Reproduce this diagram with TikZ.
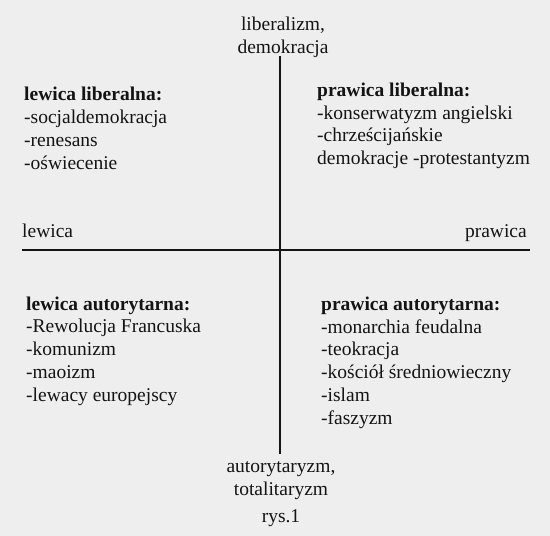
\documentclass[tikz,border=0pt]{standalone}
\usepackage{fontspec}
\setmainfont{Liberation Serif}
\definecolor{paper}{RGB}{238,238,238}
\definecolor{ink}{RGB}{20,20,20}
\begin{document}
\begin{tikzpicture}[x=1pt,y=-1pt,
    every node/.style={font=\fontsize{19.5}{22.7}\selectfont, text=ink, inner sep=0pt},
    quadrant/.style={anchor=base west, align=left},
    axislabel/.style={anchor=base, align=center},
    axis/.style={draw=ink, line width=1.5pt}]
  \fill[paper] (0,0) rectangle (550,536);
  \useasboundingbox (0,0) rectangle (550,536);

  % axes
  \coordinate (top)    at (280,56);
  \coordinate (bottom) at (280,454);
  \coordinate (left)   at (22,250);
  \coordinate (right)  at (530,250);
  \draw[axis] (top) -- (bottom);
  \draw[axis] (left) -- (right);

  % axis labels (anchored at the baseline of their last line)
  \node[axislabel] (liberal) at (283,53.5)  {liberalizm,\\demokracja};
  \node[axislabel] (author)  at (281,495)   {autorytaryzm,\\totalitaryzm};
  \node[axislabel] (caption) at (281,522)   {rys.1};
  \node[anchor=base west] (lewica)  at (22,237)  {lewica};
  \node[anchor=base east] (prawica) at (527,237) {prawica};

  % quadrants
  \node[quadrant] (lewlib) at (24,169)
    {\textbf{lewica liberalna:}\\-socjaldemokracja\\-renesans\\-oświecenie};
  \node[quadrant] (prlib) at (317,164.5)
    {\textbf{prawica liberalna:}\\-konserwatyzm angielski\\-chrześcijańskie\\demokracje -protestantyzm};
  \node[quadrant] (lewaut) at (26,401)
    {\textbf{lewica autorytarna:}\\-Rewolucja Francuska\\-komunizm\\-maoizm\\-lewacy europejscy};
  \node[quadrant] (praut) at (321,424)
    {\textbf{prawica autorytarna:}\\-monarchia feudalna\\-teokracja\\-kościół średniowieczny\\-islam\\-faszyzm};
\end{tikzpicture}
\end{document}
